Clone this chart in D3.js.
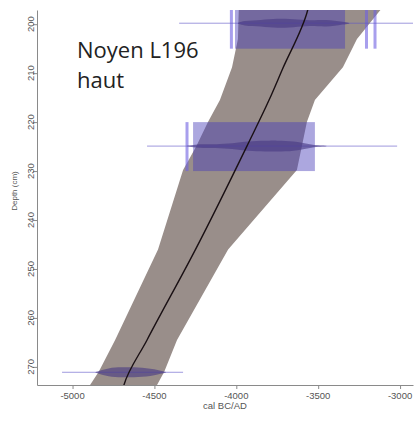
<!DOCTYPE html>
<html><head><meta charset="utf-8">
<script src="https://cdn.jsdelivr.net/npm/d3@7"></script>
<style>html,body{margin:0;padding:0;background:#fff;}</style>
</head><body><div id="chart"></div>
<script>
// ---- data ----
const xTicks = [-5000, -4500, -4000, -3500, -3000];
const yTicks = [200, 210, 220, 230, 240, 250, 260, 270];
// age-depth envelope (depth, lower bound, upper bound) and mean
const envDepth = [195, 197.1, 203, 208.8, 215.5, 220, 225, 229.8, 246, 264.5, 271, 273.7, 276];
const envLow   = [-3975, -3985, -3990, -4026, -4100, -4173, -4245, -4325, -4478, -4740, -4840, -4893, -4930];
const envHigh  = [-3090, -3120, -3263, -3349, -3520, -3569, -3600, -3630, -4050, -4362, -4440, -4484, -4520];
const meanDepth = [195, 197.1, 209.4, 215.5, 224.9, 246.2, 264.5, 273.7, 276];
const meanYear  = [-3550, -3564, -3721, -3800, -3935, -4252, -4545, -4686, -4700];
// dated samples
const dateDepth = [199.8, 224.9, 271.1];
const dateLineFrom = [-4349, -4545, -5064];
const dateLineTo = [-2900, -3018, -4325];
const boxTop = [195, 220, null];
const boxBottom = [205, 230, null];
const boxFrom = [-4008, -4264, null];
const boxTo = [-3336, -3520, null];
const bars = [[-4030, -3205, -3153], [-4301], []];
const blobYears = [
  [-3990, -3950, -3900, -3850, -3800, -3750, -3700, -3650, -3600, -3550, -3500, -3450, -3400, -3350, -3310],
  [-4300, -4250, -4200, -4150, -4100, -4050, -4000, -3950, -3900, -3850, -3800, -3750, -3700, -3650, -3600, -3550, -3500, -3450],
  [-4860, -4820, -4780, -4740, -4700, -4650, -4600, -4550, -4500, -4460, -4430]
];
const blobDensity = [
  [0.1, 0.55, 0.6, 0.7, 0.9, 1.0, 1.0, 0.9, 0.75, 0.6, 0.7, 0.75, 0.6, 0.3, 0.05],
  [0.05, 0.3, 0.35, 0.35, 0.4, 0.45, 0.6, 0.8, 0.9, 0.95, 1.0, 1.0, 0.95, 0.85, 0.6, 0.35, 0.1, 0.05],
  [0.05, 0.5, 0.8, 0.95, 1.0, 1.0, 0.95, 0.85, 0.6, 0.3, 0.05]
];
const blobMax = [4.5, 5.5, 5];

// ---- layout ----
const W = 418, H = 421;
const x = d3.scaleLinear().domain([-5217, -2921]).range([37, 413]);
const y = d3.scaleLinear().domain([197.1, 273.7]).range([10, 385]);
const FONT = "'Liberation Sans', Arial, sans-serif";

const svg = d3.select("#chart").append("svg").attr("width", W).attr("height", H)
  .style("font-family", FONT);

svg.append("defs").append("clipPath").attr("id", "clip")
  .append("rect").attr("x", 37).attr("y", 10).attr("width", 376).attr("height", 375);

const plot = svg.append("g").attr("clip-path", "url(#clip)");

// envelope
const envData = envDepth.map((d, i) => ({d, lo: envLow[i], hi: envHigh[i]}));
plot.append("path").datum(envData)
  .attr("d", d3.area().y(e => y(e.d)).x0(e => x(e.lo)).x1(e => x(e.hi)))
  .attr("fill", "#998e8a");

// boxes
dateDepth.forEach((dd, i) => {
  if (boxTop[i] != null) {
    plot.append("rect")
      .attr("x", x(boxFrom[i])).attr("width", x(boxTo[i]) - x(boxFrom[i]))
      .attr("y", y(boxTop[i])).attr("height", y(boxBottom[i]) - y(boxTop[i]))
      .attr("fill", "rgba(72,60,185,0.45)");
    bars[i].forEach(b => {
      plot.append("rect").attr("x", x(b) - 1.5).attr("width", 3)
        .attr("y", y(boxTop[i])).attr("height", y(boxBottom[i]) - y(boxTop[i]))
        .attr("fill", "rgba(110,95,225,0.6)");
    });
  }
  plot.append("line")
    .attr("x1", x(dateLineFrom[i])).attr("x2", x(dateLineTo[i]))
    .attr("y1", y(dd)).attr("y2", y(dd))
    .attr("stroke", "rgba(95,85,200,0.6)").attr("stroke-width", 1);
  const h = d3.scaleLinear().domain([0, 1]).range([0, blobMax[i]]);
  const pts = blobYears[i].map((yr, k) => ({yr, p: blobDensity[i][k]}));
  plot.append("path").datum(pts)
    .attr("d", d3.area().curve(d3.curveBasis).x(p => x(p.yr))
      .y0(p => y(dd) - h(p.p)).y1(p => y(dd) + h(p.p)))
    .attr("fill", "rgba(70,55,130,0.6)");
});

// mean line
plot.append("path").datum(meanDepth.map((d, i) => ({d, v: meanYear[i]})))
  .attr("d", d3.line().curve(d3.curveMonotoneY).y(p => y(p.d)).x(p => x(p.v)))
  .attr("fill", "none").attr("stroke", "#1a1014").attr("stroke-width", 1.4);

// axes
const axCol = "#8a8a8a";
const xAxis = svg.append("g").attr("transform", "translate(0,385)")
  .call(d3.axisBottom(x).tickValues(xTicks).tickSize(4).tickSizeOuter(0).tickFormat(() => ""));
const yAxis = svg.append("g").attr("transform", "translate(37,0)")
  .call(d3.axisLeft(y).tickValues(yTicks).tickSize(4).tickSizeOuter(0).tickFormat(() => ""));
[xAxis, yAxis].forEach(a => {
  a.select(".domain").attr("stroke", axCol);
  a.selectAll(".tick line").attr("stroke", axCol);
});

// tick labels
svg.append("g").selectAll("text").data(xTicks).join("text")
  .attr("x", d => x(d)).attr("y", 399).attr("text-anchor", "middle")
  .attr("fill", "#555").style("font-size", "9.5px")
  .text(d => String(d));
svg.append("g").selectAll("text").data(yTicks).join("text")
  .attr("transform", d => `translate(34,${y(d)}) rotate(-90)`)
  .attr("text-anchor", "middle")
  .attr("fill", "#555").style("font-size", "9.5px")
  .text(d => String(d));

svg.append("text").attr("x", 225).attr("y", 409).attr("text-anchor", "middle")
  .attr("fill", "#555").style("font-size", "9.5px").text("cal BC/AD");
svg.append("text").attr("transform", "translate(17,191) rotate(-90)")
  .attr("text-anchor", "middle").attr("fill", "#555").style("font-size", "8px").text("Depth (cm)");

// title
const t = svg.append("text").attr("fill", "#222")
  .style("font-family", "'Open Sans', sans-serif").style("font-size", "22px");
t.append("tspan").attr("x", 77).attr("y", 58).text("Noyen L196");
t.append("tspan").attr("x", 77).attr("y", 88).text("haut");
</script>
</body></html>
